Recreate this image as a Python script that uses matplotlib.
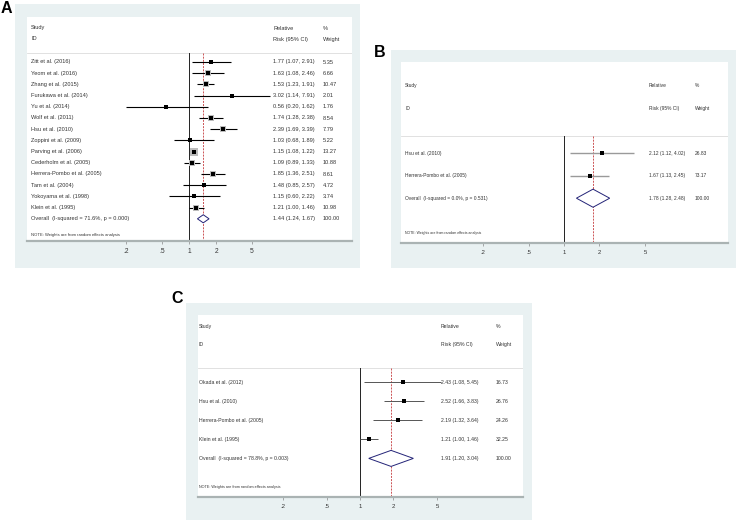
import numpy as np
import matplotlib.pyplot as plt
from matplotlib.patches import Rectangle
from matplotlib.transforms import blended_transform_factory

plt.rcParams['font.family'] = ['Liberation Sans', 'DejaVu Sans']

# Panel A data
studies_a = ['Zitt et al. (2016)', 'Yeom et al. (2016)', 'Zhang et al. (2015)', 'Furukawa et al. (2014)',
             'Yu et al. (2014)', 'Wolf et al. (2011)', 'Hsu et al. (2010)', 'Zoppini et al. (2009)',
             'Parving et al. (2006)', 'Cederholm et al. (2005)', 'Herrera-Pombo et al. (2005)',
             'Tam et al. (2004)', 'Yokoyama et al. (1998)', 'Klein et al. (1995)']
rr_a = [1.77, 1.63, 1.53, 3.02, 0.56, 1.74, 2.39, 1.03, 1.15, 1.09, 1.85, 1.48, 1.15, 1.21]
lo_a = [1.07, 1.08, 1.23, 1.14, 0.20, 1.28, 1.69, 0.68, 1.08, 0.89, 1.36, 0.85, 0.60, 1.00]
hi_a = [2.91, 2.46, 1.91, 7.91, 1.62, 2.38, 3.39, 1.89, 1.22, 1.33, 2.51, 2.57, 2.22, 1.46]
wt_a = [5.35, 6.66, 10.47, 2.01, 1.76, 8.54, 7.79, 5.22, 13.27, 10.88, 8.61, 4.72, 3.74, 10.98]
overall_a = ['Overall  (I-squared = 71.6%, p = 0.000)', 1.44, 1.24, 1.67]

# Panel B data
studies_b = ['Hsu et al. (2010)', 'Herrera-Pombo et al. (2005)']
rr_b = [2.12, 1.67]
lo_b = [1.12, 1.13]
hi_b = [4.02, 2.45]
wt_b = [26.83, 73.17]
overall_b = ['Overall  (I-squared = 0.0%, p = 0.531)', 1.78, 1.28, 2.48]

# Panel C data
studies_c = ['Okada et al. (2012)', 'Hsu et al. (2010)', 'Herrera-Pombo et al. (2005)', 'Klein et al. (1995)']
rr_c = [2.43, 2.52, 2.19, 1.21]
lo_c = [1.08, 1.66, 1.32, 1.00]
hi_c = [5.45, 3.83, 3.64, 1.46]
wt_c = [16.73, 26.76, 24.26, 32.25]
overall_c = ['Overall  (I-squared = 78.8%, p = 0.003)', 1.91, 1.20, 3.04]

ticks = [0.2, 0.5, 1, 2, 5]
tick_labels = ['.2', '.5', '1', '2', '5']
note = 'NOTE: Weights are from random effects analysis'

W, H = 736, 521
bg = '#e9f1f2'
txt = '#333333'

fig = plt.figure(figsize=(W / 100, H / 100), dpi=100)


def draw_panel(letter, lpos, outer, inner, one_x, scale, row0, step, hdr, cols, note_y,
               names, rr, lo, hi, wt, overall, fs, tfs, ci_color, ci_lw, boxes, dh):
    ox0, oy0, ox1, oy1 = outer
    fig.add_artist(Rectangle((ox0 / W, 1 - oy1 / H), (ox1 - ox0) / W, (oy1 - oy0) / H,
                             transform=fig.transFigure, color=bg, zorder=-5, lw=0))
    fig.text(lpos[0] / W, 1 - lpos[1] / H, letter, fontsize=11.5, fontweight='bold',
             ha='center', va='top')
    ix0, iy0, ix1, iy1 = inner
    ax = fig.add_axes([ix0 / W, 1 - iy1 / H, (ix1 - ix0) / W, (iy1 - iy0) / H])
    ax.set_facecolor('white')
    ax.set_xscale('log')
    ax.set_xlim(np.exp((ix0 - one_x) / scale), np.exp((ix1 - one_x) / scale))
    ybot = (iy1 - row0) / step
    ax.set_ylim(ybot, (iy0 - row0) / step)
    for s in ['top', 'left', 'right']:
        ax.spines[s].set_visible(False)
    ax.spines['bottom'].set_color('#aab3b3')
    ax.spines['bottom'].set_linewidth(1.6)
    ax.set_yticks([])
    ax.set_xticks(ticks)
    ax.set_xticklabels(tick_labels)
    ax.xaxis.set_minor_locator(plt.NullLocator())
    ax.tick_params(axis='x', length=2.2, width=0.5, color='#888888', pad=2.5,
                   labelsize=tfs, labelcolor=txt)

    def ry(py):
        return (py - row0) / step

    def cx(px):
        return (px - ix0) / (ix1 - ix0)

    tr = blended_transform_factory(ax.transAxes, ax.transData)
    yl = ry(hdr[2])
    ax.axhline(yl, color='#dcdcdc', lw=0.6)
    ax.plot([1, 1], [yl, ybot], color='#222222', lw=0.7)
    ax.plot([overall[1], overall[1]], [yl, ybot], color='#c8474a', lw=0.65, ls=(0, (2.2, 1.3)))

    # headers
    for label, x, y in [('Study', cols[0], hdr[0]), ('ID', cols[0], hdr[1]),
                        ('Relative', cols[1], hdr[0]), ('Risk (95% CI)', cols[1], hdr[1]),
                        ('%', cols[2], hdr[0]), ('Weight', cols[2], hdr[1])]:
        ax.text(cx(x), ry(y), label, transform=tr, fontsize=fs, color=txt, va='center')

    n = len(names)
    rows = np.arange(n)
    for i in rows:
        ax.plot([lo[i], hi[i]], [i, i], color=ci_color, lw=ci_lw, solid_capstyle='butt')
        if boxes:
            ax.plot(rr[i], i, marker='s', ms=1.5 * np.sqrt(wt[i]), color='#bcbcbc', mew=0)
        ax.plot(rr[i], i, marker='s', ms=2.2, color='black', mew=0)
        ax.text(cx(cols[0]), i, names[i], transform=tr, fontsize=fs, color=txt, va='center')
        ax.text(cx(cols[1]), i, f'{rr[i]:.2f} ({lo[i]:.2f}, {hi[i]:.2f})', transform=tr,
                fontsize=fs, color=txt, va='center')
        ax.text(cx(cols[2]), i, f'{wt[i]:.2f}', transform=tr, fontsize=fs, color=txt, va='center')

    # overall diamond
    lab, est, olo, ohi = overall
    ax.fill([olo, est, ohi, est, olo], [n, n - dh, n, n + dh, n], facecolor='white',
            edgecolor='#232377', lw=0.7, zorder=3)
    ax.text(cx(cols[0]), n, lab, transform=tr, fontsize=fs, color=txt, va='center')
    ax.text(cx(cols[1]), n, f'{est:.2f} ({olo:.2f}, {ohi:.2f})', transform=tr,
            fontsize=fs, color=txt, va='center')
    ax.text(cx(cols[2]), n, '100.00', transform=tr, fontsize=fs, color=txt, va='center')
    ax.text(cx(cols[0]), ry(note_y), note, transform=tr, fontsize=fs * 0.72, color=txt, va='center')
    return ax


draw_panel('A', (6, 1), (15, 4, 360, 268), (27, 17, 352, 241), 189, 39.1, 62, 11.2,
           (28, 39, 53), (31, 273, 323), 235,
           studies_a, rr_a, lo_a, hi_a, wt_a, overall_a, 4.1, 4.8, 'black', 0.8, True, 0.36)

draw_panel('B', (380, 45), (391, 50, 736, 268), (401, 62, 728, 243), 564, 50.3, 153, 22.6,
           (85, 108, 136), (405, 649, 695), 233,
           studies_b, rr_b, lo_b, hi_b, wt_b, overall_b, 3.5, 4.2, '#9a9a9a', 1.0, False, 0.4)

draw_panel('C', (177, 291), (186, 303, 532, 520), (198, 315, 523, 497), 360, 48.0, 382, 19.1,
           (326, 344, 368), (199, 441, 496), 487,
           studies_c, rr_c, lo_c, hi_c, wt_c, overall_c, 3.7, 4.3, '#555555', 0.7, False, 0.42)

plt.savefig('out.png', dpi=100)
